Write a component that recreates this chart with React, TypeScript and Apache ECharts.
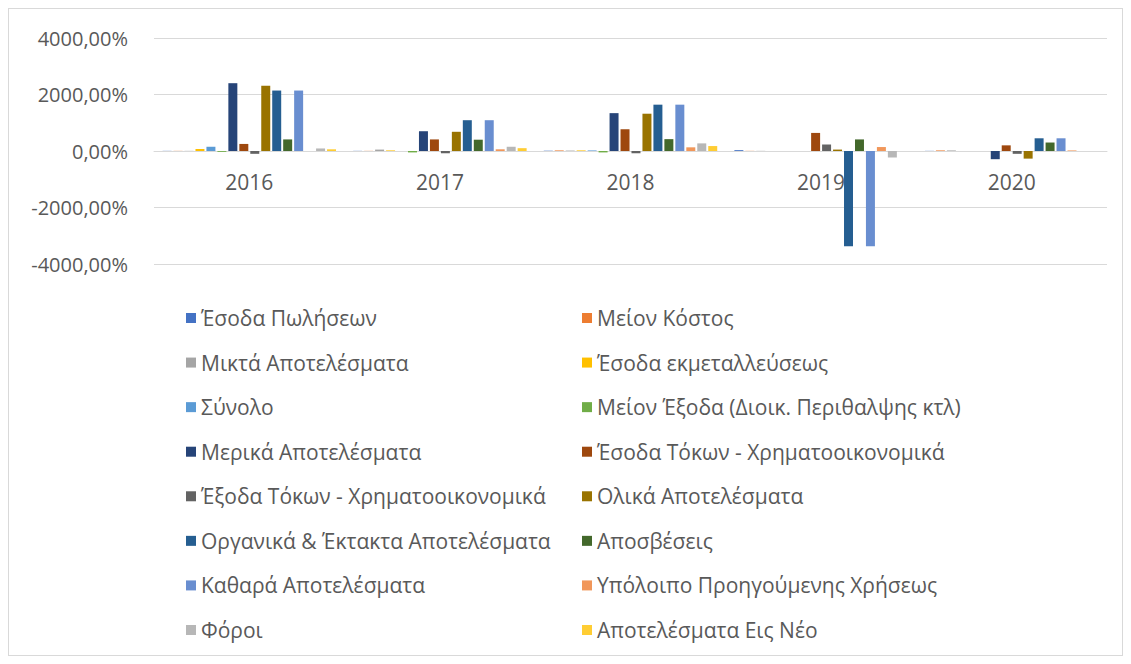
import React, { useEffect, useRef } from "react";
import * as echarts from "echarts";

const categories = ["2016", "2017", "2018", "2019", "2020"];

const seriesNames = [
  "Έσοδα Πωλήσεων",
  "Μείον Κόστος",
  "Μικτά Αποτελέσματα",
  "Έσοδα εκμεταλλεύσεως",
  "Σύνολο",
  "Μείον Έξοδα (Διοικ. Περιθαλψης κτλ)",
  "Μερικά Αποτελέσματα",
  "Έσοδα Τόκων - Χρηματοοικονομικά",
  "Έξοδα Τόκων - Χρηματοοικονομικά",
  "Ολικά Αποτελέσματα",
  "Οργανικά & Έκτακτα Αποτελέσματα",
  "Αποσβέσεις",
  "Καθαρά Αποτελέσματα",
  "Υπόλοιπο Προηγούμενης Χρήσεως",
  "Φόροι",
  "Αποτελέσματα Εις Νέο",
];

const esodaPoliseon = [5, 5, 10, 30, 5];
const meionKostos = [5, 5, 20, 5, 20];
const miktaApotelesmata = [5, 50, 15, 5, 20];
const esodaEkmetalleuseos = [70, 20, 20, 0, 0];
const synolo = [150, 0, 20, 0, 0];
const meionExoda = [-30, -50, -50, 0, 0];
const merikaApotelesmata = [2400, 700, 1340, 0, -290];
const esodaTokon = [250, 410, 770, 640, 200];
const exodaTokon = [-100, -80, -80, 230, -100];
const olikaApotelesmata = [2310, 680, 1320, 50, -270];
const organikaEktakta = [2140, 1090, 1640, -3370, 450];
const aposveseis = [410, 400, 420, 410, 300];
const kathara = [2140, 1090, 1640, -3370, 450];
const ypoloipo = [0, 60, 130, 140, 20];
const foroi = [90, 150, 270, -230, 0];
const eisNeo = [60, 100, 175, 0, 0];

const seriesValues = [
  esodaPoliseon,
  meionKostos,
  miktaApotelesmata,
  esodaEkmetalleuseos,
  synolo,
  meionExoda,
  merikaApotelesmata,
  esodaTokon,
  exodaTokon,
  olikaApotelesmata,
  organikaEktakta,
  aposveseis,
  kathara,
  ypoloipo,
  foroi,
  eisNeo,
];

const colors = [
  "#4472C4", "#ED7D31", "#A5A5A5", "#FFC000", "#5B9BD5", "#70AD47",
  "#264478", "#9E480E", "#636363", "#997300", "#255E91", "#43682B",
  "#698ED0", "#F1975A", "#B7B7B7", "#FFCD33",
];

const yTicks = [-4000, -2000, 0, 2000, 4000];

const FONT = "'Open Sans', 'Noto Sans', sans-serif";

export default function App() {
  const ref = useRef<HTMLDivElement>(null);
  useEffect(() => {
    if (!ref.current) return;
    const chart = echarts.init(ref.current, undefined, { renderer: "svg" });
    const legendText = {
      fontSize: 21,
      color: "#595959",
      fontFamily: FONT,
      lineHeight: 24,
    };
    const legendBase = {
      orient: "vertical",
      top: 297,
      padding: 0,
      itemWidth: 10,
      itemHeight: 10,
      itemGap: 20.57,
      icon: "rect",
      textStyle: legendText,
      selectedMode: false,
    };
    chart.setOption({
      animation: false,
      color: colors,
      grid: { left: 145, right: 15, top: 29, bottom: 391, containLabel: false },
      legend: [
        { ...legendBase, left: 177, data: seriesNames.filter((_, i) => i % 2 === 0) },
        { ...legendBase, left: 573, data: seriesNames.filter((_, i) => i % 2 === 1) },
      ],
      xAxis: {
        type: "category",
        data: categories,
        offset: -113,
        axisLine: { show: true, onZero: false, lineStyle: { color: "#D9D9D9", width: 1 } },
        axisTick: { show: false },
        axisLabel: {
          fontSize: 21,
          color: "#595959",
          fontFamily: FONT,
          margin: 20,
        },
      },
      yAxis: {
        type: "value",
        min: yTicks[0],
        max: yTicks[yTicks.length - 1],
        interval: 2000,
        axisLine: { show: false },
        axisTick: { show: false },
        splitLine: { lineStyle: { color: "#D9D9D9", width: 1 } },
        axisLabel: {
          fontSize: 20,
          color: "#595959",
          fontFamily: FONT,
          margin: 26,
          formatter: (v: number) => v.toFixed(2).replace(".", ",") + "%",
        },
      },
      series: seriesNames.map((name, i) => ({
        name,
        type: "bar",
        data: seriesValues[i],
        barGap: "22%",
        barCategoryGap: "9%",
        itemStyle: { color: colors[i] },
      })),
    });
    return () => chart.dispose();
  }, []);
  return (
    <div
      ref={ref}
      style={{
        width: 1113,
        height: 646,
        border: "1px solid #D9D9D9",
      }}
    />
  );
}
